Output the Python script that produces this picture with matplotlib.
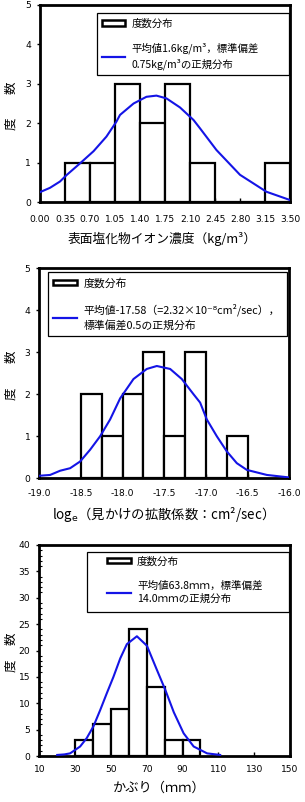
import matplotlib
matplotlib.use("Agg")
import matplotlib.pyplot as plt
from matplotlib.patches import Patch, Rectangle
from matplotlib.lines import Line2D
from matplotlib.ticker import MultipleLocator

plt.rcParams['font.family'] = ['Noto Sans CJK JP', 'DejaVu Sans']

# ---------------- Data ----------------
# Panel 1: surface chloride ion concentration
p1_bin_left = [0.35, 0.70, 1.05, 1.40, 1.75, 2.10, 2.45, 2.80, 3.15]
p1_counts = [1, 1, 3, 2, 3, 1, 0, 0, 1]
p1_bin_width = 0.35
p1_curve_x = [0.00, 0.14, 0.28, 0.37, 0.56, 0.75, 0.93, 1.07, 1.12, 1.31, 1.49,
              1.63, 1.77, 1.96, 2.15, 2.24, 2.47, 2.80, 3.17, 3.50]
p1_curve_y = [0.25, 0.36, 0.52, 0.68, 0.98, 1.29, 1.66, 2.04, 2.21, 2.50, 2.67,
              2.70, 2.63, 2.40, 2.08, 1.87, 1.32, 0.69, 0.26, 0.05]
p1_xticks = [0.00, 0.35, 0.70, 1.05, 1.40, 1.75, 2.10, 2.45, 2.80, 3.15, 3.50]
p1_xticklabels = ['0.00', '0.35', '0.70', '1.05', '1.40', '1.75', '2.10',
                  '2.45', '2.80', '3.15', '3.50']
p1_yticks = [0, 1, 2, 3, 4, 5]

# Panel 2: log apparent diffusion coefficient
p2_bin_left = [-18.50, -18.25, -18.00, -17.75, -17.50, -17.25, -17.00, -16.75]
p2_counts = [2, 1, 2, 3, 1, 3, 0, 1]
p2_bin_width = 0.25
p2_curve_x = [-19.00, -18.87, -18.75, -18.63, -18.51, -18.39, -18.27, -18.15,
              -18.03, -17.87, -17.71, -17.59, -17.43, -17.29, -17.15, -17.07,
              -16.99, -16.87, -16.75, -16.63, -16.51, -16.27, -16.00]
p2_curve_y = [0.06, 0.08, 0.18, 0.24, 0.40, 0.68, 1.00, 1.40, 1.90, 2.36, 2.60,
              2.67, 2.60, 2.36, 2.00, 1.80, 1.40, 1.00, 0.64, 0.36, 0.20, 0.08, 0.02]
p2_xticks = [-19.0, -18.5, -18.0, -17.5, -17.0, -16.5, -16.0]
p2_xticklabels = ['-19.0', '-18.5', '-18.0', '-17.5', '-17.0', '-16.5', '-16.0']
p2_yticks = [0, 1, 2, 3, 4, 5]

# Panel 3: cover depth
p3_bin_left = [30, 40, 50, 60, 70, 80, 90]
p3_counts = [3, 6, 9, 24, 13, 3, 3]
p3_bin_width = 10
p3_curve_x = [20.0, 24.0, 27.2, 32.8, 36.5, 40.2, 44.0, 47.7, 51.4, 55.2, 58.9,
              64.5, 70.1, 75.7, 80.4, 85.1, 90.6, 96.2, 103.7, 111.0]
p3_curve_y = [0.2, 0.3, 0.5, 1.8, 3.4, 5.6, 8.7, 11.9, 15.0, 18.5, 21.2,
              22.7, 20.9, 16.3, 12.5, 8.3, 4.3, 1.8, 0.5, 0.2]
p3_xticks = [10, 30, 50, 70, 90, 110, 130, 150]
p3_yticks = [0, 5, 10, 15, 20, 25, 30, 35, 40]

legend_hist = '度数分布'
p1_legend_curve = '平均値1.6kg/m³，標準偏差\n0.75kg/m³の正規分布'
p2_legend_curve = '平均値-17.58（=2.32×10⁻⁸cm²/sec），\n標準偏差0.5の正規分布'
p3_legend_curve = '平均値63.8ｍｍ，標準偏差\n14.0ｍｍの正規分布'
p1_xlabel = '表面塩化物イオン濃度（kg/m³）'
p2_xlabel = 'log$_{\\mathrm{e}}$（見かけの拡散係数：cm²/sec）'
p3_xlabel = 'かぶり（ｍｍ）'

# ---------------- Figure ----------------
W, H = 305, 802
fig = plt.figure(figsize=(W / 100, H / 100), dpi=100)
fig.patch.set_facecolor('white')

BLUE = '#1414E6'


def make_axes(left, right, top, bottom):
    return fig.add_axes([left / W, 1 - bottom / H, (right - left) / W, (bottom - top) / H])


def style(ax, xpad):
    for s in ax.spines.values():
        s.set_linewidth(2.0)
        s.set_color('black')
    ax.tick_params(axis='x', direction='in', length=3, width=1, pad=xpad, labelsize=6.6)
    ax.tick_params(axis='y', direction='out', length=2.5, width=1, pad=4, labelsize=6.6)
    for lab in ax.get_xticklabels() + ax.get_yticklabels():
        lab.set_family('DejaVu Sans')


def legend(ax, bbox, label2, lspace, fs, frame=True, bpad=0.5):
    handles = [Patch(facecolor='white', edgecolor='black', linewidth=1.8),
               Line2D([], [], color=BLUE, linewidth=1.6)]
    kw = dict(loc='upper left', bbox_to_anchor=bbox, fontsize=fs,
              frameon=frame, fancybox=False, framealpha=1,
              edgecolor='black', handlelength=2.2, handleheight=0.45,
              handletextpad=0.6, labelspacing=lspace, borderpad=bpad,
              borderaxespad=0)
    if len(bbox) == 4:
        kw['mode'] = 'expand'
    leg = ax.legend(handles, [legend_hist, label2], **kw)
    leg.get_frame().set_linewidth(0.9)
    for t in leg.get_texts():
        t.set_linespacing(1.45)
    return leg


def ylab(ax_top_char, ax_bot_char):
    fig.text(11 / W, 1 - ax_top_char / H, '数', rotation=90, ha='center', va='center', fontsize=9)
    fig.text(11 / W, 1 - ax_bot_char / H, '度', rotation=90, ha='center', va='center', fontsize=9)


# Panel 1
ax1 = make_axes(40, 290, 5, 202)
ax1.bar(p1_bin_left, p1_counts, width=p1_bin_width, align='edge',
        facecolor='white', edgecolor='black', linewidth=1.6, zorder=2)
ax1.plot(p1_curve_x, p1_curve_y, color=BLUE, linewidth=1.5, zorder=3)
ax1.set_xlim(0, 3.5)
ax1.set_ylim(0, 5)
ax1.set_xticks(p1_xticks)
ax1.set_xticklabels(p1_xticklabels)
ax1.set_yticks(p1_yticks)
style(ax1, 9.5)
ax1.set_xlabel(p1_xlabel, fontsize=9.2)
ax1.xaxis.set_label_coords(0.49, -(238.5 - 202) / 197)
ax1.xaxis.label.set_va('center')
legend(ax1, (0.228, 0.64, 0.768, 0.319), p1_legend_curve, 1.35, 7.5)
ylab(88, 124)

# Panel 2
ax2 = make_axes(39.3, 289.3, 268, 478.3)
ax2.bar(p2_bin_left, p2_counts, width=p2_bin_width, align='edge',
        facecolor='white', edgecolor='black', linewidth=1.6, zorder=2)
ax2.plot(p2_curve_x, p2_curve_y, color=BLUE, linewidth=1.5, zorder=3)
ax2.set_xlim(-19, -16)
ax2.set_ylim(0, 5)
ax2.set_xticks(p2_xticks)
ax2.set_xticklabels(p2_xticklabels)
ax2.set_yticks(p2_yticks)
style(ax2, 8)
ax2.set_xlabel(p2_xlabel, fontsize=9.6)
ax2.xaxis.set_label_coords(0.48, -(515 - 478.3) / 210.3)
ax2.xaxis.label.set_va('center')
legend(ax2, (0.035, 0.68, 0.955, 0.3), p2_legend_curve, 1.4, 7.8)
ylab(357, 394)

# Panel 3
ax3 = make_axes(39.3, 290, 545, 756)
ax3.bar(p3_bin_left, p3_counts, width=p3_bin_width, align='edge',
        facecolor='white', edgecolor='black', linewidth=1.6, zorder=2)
ax3.plot(p3_curve_x, p3_curve_y, color=BLUE, linewidth=1.5, zorder=3)
ax3.set_xlim(10, 150)
ax3.set_ylim(0, 40)
ax3.set_xticks(p3_xticks)
ax3.set_yticks(p3_yticks)
ax3.yaxis.set_minor_locator(MultipleLocator(1))
ax3.tick_params(axis='y', which='minor', direction='in', length=2, width=0.8)
style(ax3, 6.5)
ax3.set_xlabel(p3_xlabel, fontsize=9.5)
ax3.xaxis.set_label_coords(0.48, -(788 - 756) / 211)
ax3.xaxis.label.set_va('center')
# legend frame (layout box) and indented, frameless legend entries
ax3.add_patch(Rectangle((0.19, 0.682), 0.806, 0.285, transform=ax3.transAxes,
                        facecolor='white', edgecolor='black', linewidth=0.9,
                        zorder=4))
leg3 = legend(ax3, (0.255, 0.967), p3_legend_curve, 1.3, 7.6, frame=False, bpad=0.4)
leg3.set_zorder(5)
ylab(639, 666)

fig.savefig('out.png', dpi=100, facecolor='white')
